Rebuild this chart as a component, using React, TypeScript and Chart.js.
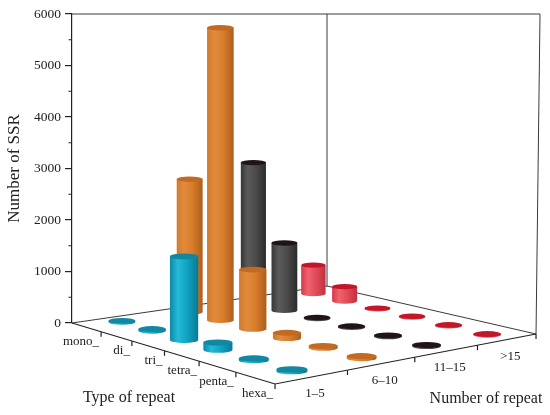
import React, { useEffect, useRef } from 'react'
import { Chart, registerables } from 'chart.js'

Chart.register(...registerables)

// categories along the two floor axes
const repeatTypes = ['mono_', 'di_', 'tri_', 'tetra_', 'penta_', 'hexa_']
const repeatNumbers = ['1–5', '6–10', '11–15', '>15']

// number of SSR per type, one array per repeat-number class
const ssr1to5 = [25, 35, 1540, 130, 30, 30]
const ssr6to10 = [2670, 5720, 1130, 100, 35, 35]
const ssr11to15 = [2900, 1360, 20, 20, 20, 20]
const ssrOver15 = [610, 300, 15, 15, 15, 15]

const valueTicks = [0, 1000, 2000, 3000, 4000, 5000, 6000]
const minorTicks = [500, 1500, 2500, 3500, 4500, 5500]

const seriesValues = [ssr1to5, ssr6to10, ssr11to15, ssrOver15]

// shading per repeat-number class
const shades = [
  { edge: '#0c88a6', light: '#25bad8', mid: '#10a3c3', dark: '#087a94', top: '#1187a2' },
  { edge: '#d07a2e', light: '#e18b3c', mid: '#d87d2c', dark: '#ad5e1b', top: '#c26a24' },
  { edge: '#363636', light: '#5b5b5b', mid: '#4a4a4a', dark: '#2b2b2b', top: '#201416' },
  { edge: '#d63846', light: '#ee6470', mid: '#e24b58', dark: '#bf3240', top: '#c21729' },
]

// floor corners in scale units (x: 0..1 across the plot, y: value units) and relative depth
const FLOOR = {
  left: { x: 0, y: 0, d: 1 },
  front: { x: 0.4338, y: -1184, d: 0.837 },
  right: { x: 0.9915, y: -214, d: 0.965 },
  back: { x: 0.5449, y: 718, d: 1.128 },
}

const FONT = 'Liberation Serif, Times New Roman, serif'
const INK = '#222'
const WALL = '#3a3a3a'

function floorPoint(u: number, v: number) {
  const wl = (1 - u) * (1 - v) * FLOOR.left.d
  const wf = u * (1 - v) * FLOOR.front.d
  const wr = u * v * FLOOR.right.d
  const wb = (1 - u) * v * FLOOR.back.d
  const d = wl + wf + wr + wb
  return {
    x: (wl * FLOOR.left.x + wf * FLOOR.front.x + wr * FLOOR.right.x + wb * FLOOR.back.x) / d,
    y: (wl * FLOOR.left.y + wf * FLOOR.front.y + wr * FLOOR.right.y + wb * FLOOR.back.y) / d,
    d,
  }
}

function drawCylinder(ctx: CanvasRenderingContext2D, cx: number, base: number, top: number, d: number, c: any) {
  const rx = 13.4 / d
  const ry = 2.8 / d
  const g = ctx.createLinearGradient(cx - rx, 0, cx + rx, 0)
  g.addColorStop(0, c.edge)
  g.addColorStop(0.28, c.light)
  g.addColorStop(0.6, c.mid)
  g.addColorStop(1, c.dark)
  ctx.beginPath()
  ctx.moveTo(cx - rx, top)
  ctx.lineTo(cx - rx, base)
  ctx.ellipse(cx, base, rx, ry, 0, Math.PI, 0, true)
  ctx.lineTo(cx + rx, top)
  ctx.closePath()
  ctx.fillStyle = g
  ctx.fill()
  ctx.beginPath()
  ctx.ellipse(cx, top, rx, ry, 0, 0, Math.PI * 2)
  ctx.fillStyle = c.top
  ctx.fill()
}

const boxPlugin = {
  id: 'box3d',
  beforeDatasetsDraw(chart: any) {
    const { ctx, scales: { x, y } } = chart
    const px = (p: { x: number; y: number }) => [x.getPixelForValue(p.x), y.getPixelForValue(p.y)]
    const L = px(floorPoint(0, 0))
    const F = px(floorPoint(1, 0))
    const R = px(floorPoint(1, 1))
    const B = px(floorPoint(0, 1))
    const yTop = y.getPixelForValue(6000)
    ctx.save()
    ctx.strokeStyle = WALL
    ctx.lineWidth = 1
    ctx.beginPath()
    ctx.moveTo(L[0], yTop)
    ctx.lineTo(x.getPixelForValue(1), yTop)
    ctx.lineTo(R[0], R[1])
    ctx.moveTo(B[0], yTop)
    ctx.lineTo(B[0], B[1])
    ctx.moveTo(L[0], L[1])
    ctx.lineTo(B[0], B[1])
    ctx.lineTo(R[0], R[1])
    ctx.stroke()

    // front floor axes
    ctx.strokeStyle = INK
    ctx.lineWidth = 1.2
    ctx.beginPath()
    ctx.moveTo(L[0], L[1])
    ctx.lineTo(F[0], F[1])
    ctx.lineTo(R[0], R[1])
    for (let k = 1; k <= repeatTypes.length; k++) {
      const t = px(floorPoint(k / repeatTypes.length, 0))
      ctx.moveTo(t[0], t[1])
      ctx.lineTo(t[0], t[1] + 5)
    }
    for (let k = 1; k <= repeatNumbers.length; k++) {
      const t = px(floorPoint(1, k / repeatNumbers.length))
      ctx.moveTo(t[0], t[1])
      ctx.lineTo(t[0], t[1] + 5)
    }
    // minor ticks on value axis
    for (const v of minorTicks) {
      const ty = y.getPixelForValue(v)
      ctx.moveTo(L[0] - 3.5, ty)
      ctx.lineTo(L[0], ty)
    }
    ctx.stroke()

    ctx.fillStyle = INK
    ctx.font = `13px ${FONT}`
    ctx.textBaseline = 'alphabetic'
    ctx.textAlign = 'right'
    repeatTypes.forEach((name, i) => {
      const t = px(floorPoint((i + 1) / repeatTypes.length, 0))
      ctx.fillText(name, t[0] - 2, t[1] + 13)
    })
    ctx.textAlign = 'center'
    repeatNumbers.forEach((name, j) => {
      const t = px(floorPoint(1, (j + 0.5) / repeatNumbers.length))
      ctx.fillText(name, t[0] + 3, t[1] + 20)
    })
    ctx.font = `16px ${FONT}`
    ctx.fillText('Type of repeat', 129, 402)
    ctx.fillText('Number of repeat', 486, 403)
    ctx.restore()
  },
  afterDatasetsDraw(chart: any) {
    const { ctx, scales: { y } } = chart
    const cells: any[] = []
    chart.data.datasets.forEach((ds: any, j: number) => {
      const meta = chart.getDatasetMeta(j)
      ds.data.forEach((pt: any, i: number) => {
        const el = meta.data[i]
        cells.push({ j, cx: el.x, top: el.y, base: y.getPixelForValue(pt.baseY), d: pt.depth })
      })
    })
    cells.sort((a, b) => b.d - a.d)
    ctx.save()
    for (const c of cells) drawCylinder(ctx, c.cx, c.base, c.top, c.d, shades[c.j])
    ctx.restore()
  },
}

export default function App() {
  const canvasRef = useRef<HTMLCanvasElement | null>(null)

  useEffect(() => {
    document.body.style.margin = '0'
    const el = canvasRef.current
    if (!el) return

    const datasets = seriesValues.map((values, j) => ({
      label: repeatNumbers[j],
      data: values.map((val, i) => {
        const f = floorPoint((i + 0.5) / repeatTypes.length, (j + 0.5) / repeatNumbers.length)
        return { x: f.x, y: f.y + val / f.d, baseY: f.y, depth: f.d }
      }),
      pointRadius: 0,
      showLine: false,
    }))

    const chart = new Chart(el, {
      type: 'scatter',
      data: { datasets },
      options: {
        animation: false,
        responsive: true,
        maintainAspectRatio: false,
        events: [],
        layout: { padding: { left: 0, top: 14, right: 10, bottom: 92 } },
        plugins: { legend: { display: false }, tooltip: { enabled: false } },
        scales: {
          x: { type: 'linear', min: 0, max: 1, display: false },
          y: {
            type: 'linear',
            min: 0,
            max: 6000,
            afterBuildTicks: (scale: any) => {
              scale.ticks = valueTicks.map((v) => ({ value: v }))
            },
            afterFit: (scale: any) => {
              scale.width = 72
            },
            ticks: {
              font: { family: FONT, size: 13.5 },
              color: INK,
              padding: 4,
              callback: (v: any) => String(v),
            },
            grid: { drawOnChartArea: false, tickLength: 7, color: INK, lineWidth: 1.2 },
            border: { color: INK, width: 1.2 },
            title: {
              display: true,
              text: 'Number of SSR',
              font: { family: FONT, size: 17 },
              color: INK,
              padding: { top: 4, bottom: 0 },
            },
          },
        },
      },
      plugins: [boxPlugin],
    })

    return () => chart.destroy()
  }, [])

  return (
    <div style={{ width: 550, height: 415, position: 'relative', background: '#fff' }}>
      <canvas ref={canvasRef}></canvas>
    </div>
  )
}
